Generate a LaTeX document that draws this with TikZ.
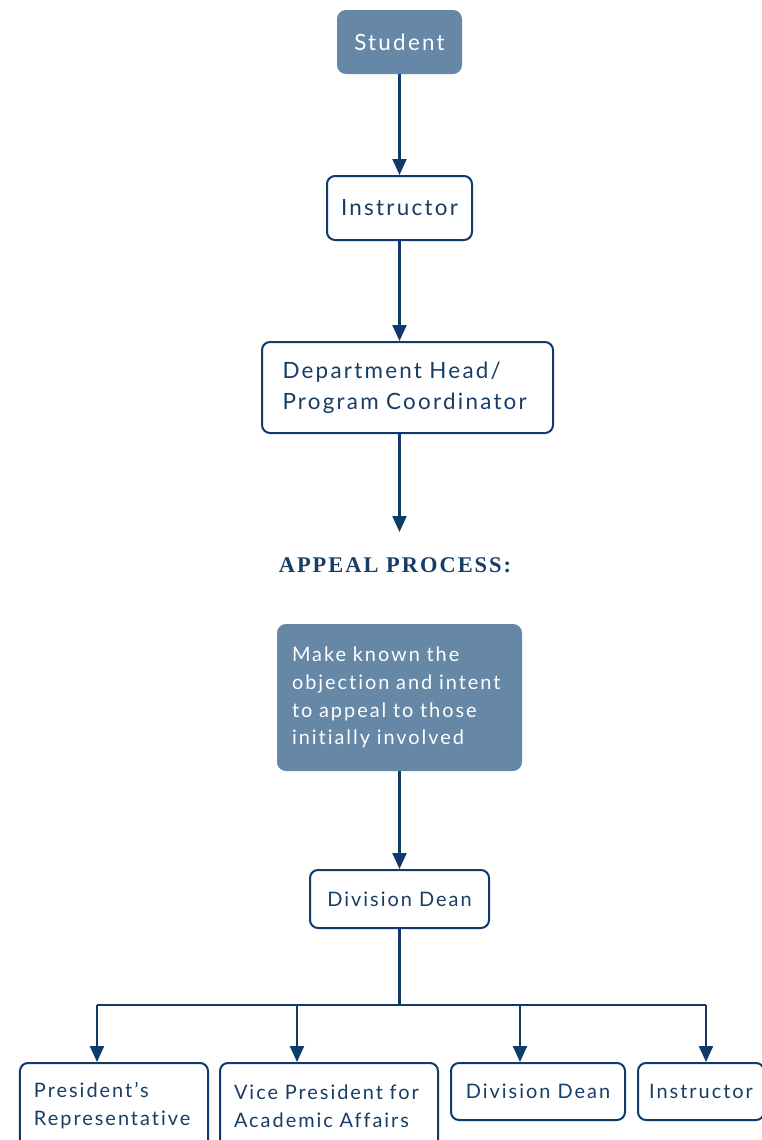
\documentclass[tikz,border=0pt]{standalone}
\usepackage{fontspec}
\setmainfont[LetterSpace=10,Ligatures=NoCommon]{Lato}
\newfontfamily\headfont[LetterSpace=9]{Liberation Serif}
\usetikzlibrary{arrows.meta}
\definecolor{navy}{HTML}{0E3B69}
\definecolor{slate}{HTML}{6687A5}
\definecolor{inkblue}{HTML}{173D67}

\begin{document}
\begin{tikzpicture}[x=1bp, y=-1bp,
    box/.style={draw=navy, line width=2bp, rounded corners=8bp, fill=white,
      text=inkblue, inner sep=0pt, font=\fontsize{22.5}{31}\selectfont},
    smallbox/.style={box, font=\fontsize{20}{28}\selectfont},
    shaded/.style={draw=slate, fill=slate, text=white},
    arr/.style={draw=navy, line width=2.2bp, -{Triangle[length=16bp,width=14bp]}},
    ln/.style={draw=navy, line width=2.2bp}]
      \useasboundingbox (0,0) rectangle (762,1140);
      \clip (0,0) rectangle (762,1140);
      % first steps
      \node[box, shaded, minimum width=123bp, minimum height=62bp] (student) at (399.5, 42) {Student};
      \node[box, minimum width=145bp, minimum height=64bp] (instr) at (399.5, 208) {Instructor};
      \node[box, minimum width=291bp, minimum height=91bp, text width=250bp, align=left] (dept) at (407.5, 387.5) {Department Head/\\Program Coordinator};
      \coordinate (appealtip) at (399.5, 532);
      \node[text=inkblue, font=\headfont\bfseries\fontsize{22.5}{26}\selectfont] (heading) at (395, 565) {APPEAL PROCESS:};
      % appeal process
      \node[smallbox, shaded, minimum width=243bp, minimum height=145bp, text width=215bp, align=left] (objection) at (399.5, 697.5) {Make known the\\objection and intent\\to appeal to those\\initially involved};
      \node[smallbox, minimum width=179bp, minimum height=58bp] (dean) at (399.5, 899) {Division Dean};
      \node[smallbox, minimum width=188bp, minimum height=86bp, text width=160bp, align=left] (pres) at (114, 1106) {President’s\\Representative};
      \node[smallbox, minimum width=218bp, minimum height=86bp, text width=190bp, align=left] (vpaa) at (329, 1106) {Vice President for\\Academic Affairs};
      \node[smallbox, minimum width=174bp, minimum height=57bp] (dean2) at (538, 1091.5) {Division Dean};
      \node[smallbox, minimum width=126bp, minimum height=57bp] (instr2) at (701, 1091.5) {Instructor};
      % connectors
      \draw[arr] (student) -- (instr);
      \draw[arr] (instr.south) -- (instr.south |- dept.north);
      \draw[arr] (instr.south |- dept.south) -- (appealtip);
      \draw[arr] (objection) -- (dean);
      \coordinate (fork) at (399.5, 1005);
      \coordinate (forkA) at (97, 1005);
      \coordinate (forkB) at (297, 1005);
      \coordinate (forkC) at (520, 1005);
      \coordinate (forkD) at (706, 1005);
      \draw[ln] (dean) -- (fork);
      \draw[ln] (forkA) -- (forkD);
      \draw[arr] (forkA) -- (forkA |- pres.north);
      \draw[arr] (forkB) -- (forkB |- vpaa.north);
      \draw[arr] (forkC) -- (forkC |- dean2.north);
      \draw[arr] (forkD) -- (forkD |- instr2.north);
\end{tikzpicture}
\end{document}
